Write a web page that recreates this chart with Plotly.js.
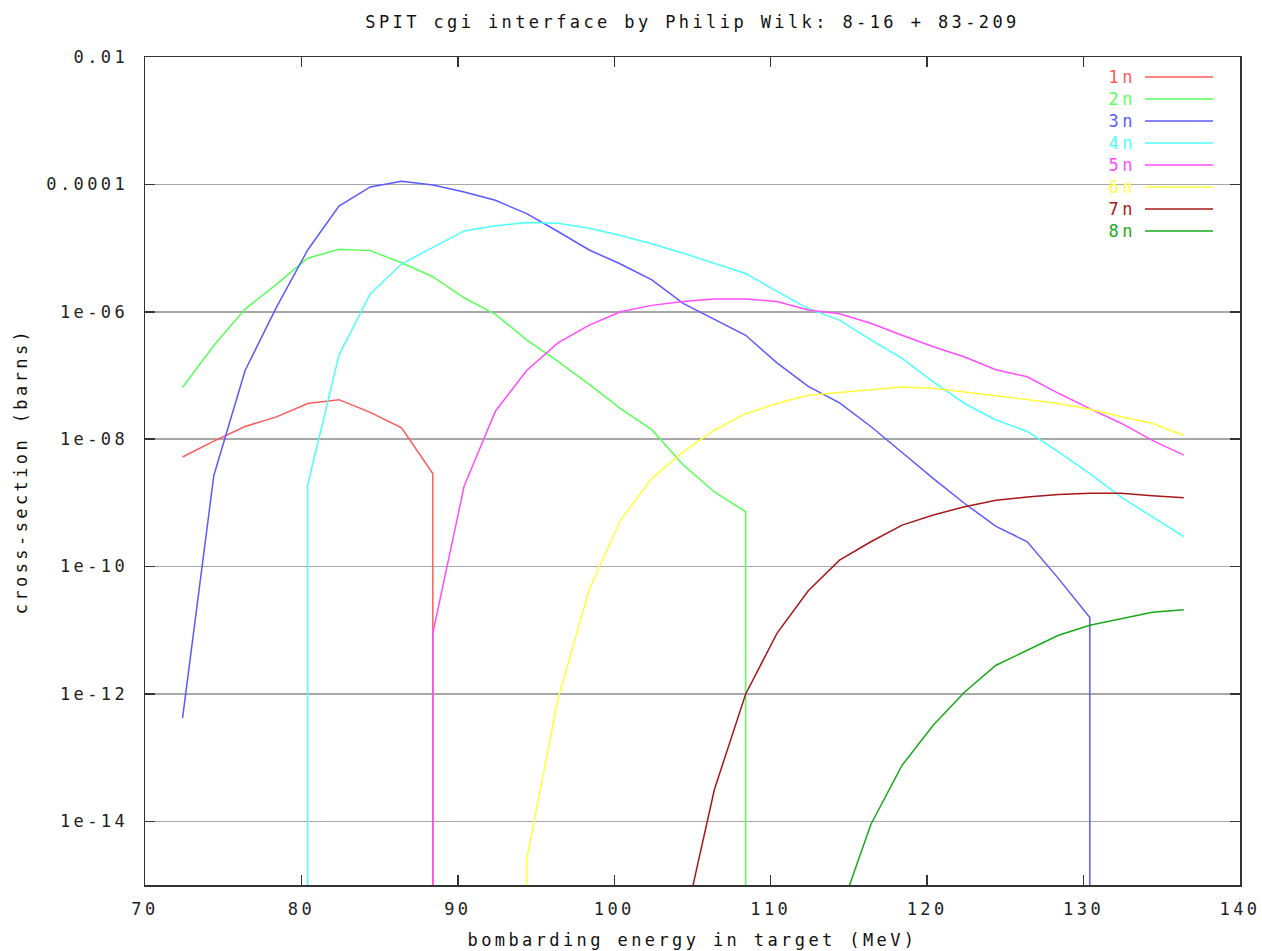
<!DOCTYPE html>
<html>
<head>
<meta charset="utf-8">
<script src="https://cdn.plot.ly/plotly-3.0.1.min.js"></script>
<style>
  html, body { margin: 0; padding: 0; background: #fff; }
  #chart { width: 1262px; height: 951px; }
  .main-svg text { letter-spacing: 3.4px; }
</style>
</head>
<body>
<div id="chart"></div>
<script>
// bombarding energy in target (MeV)
const energy = [72.4, 74.4, 76.4, 78.4, 80.4, 82.4, 84.4, 86.4, 88.4, 90.4, 92.4, 94.4, 96.4, 98.4, 100.4,
                102.4, 104.4, 106.4, 108.4, 110.4, 112.4, 114.4, 116.4, 118.4, 120.4, 122.4, 124.4, 126.4,
                128.4, 130.4, 132.4, 134.4, 136.4];

const seriesNames = ['1n', '2n', '3n', '4n', '5n', '6n', '7n', '8n'];
const seriesColors = ['#ff5a5a', '#5aff5a', '#5a5aff', '#4dffff', '#ff4dff', '#ffff3c', '#a81818', '#1aa81a'];

// cross-section (barns); null = no cross-section
const xs1n = [5.25e-9, 9.33e-9, 1.58e-8, 2.24e-8, 3.63e-8, 4.17e-8, 2.63e-8, 1.51e-8, 2.88e-9,
              null, null, null, null, null, null, null, null, null, null, null, null, null, null, null,
              null, null, null, null, null, null, null, null, null];
const xs2n = [6.46e-8, 2.95e-7, 1.10e-6, 2.69e-6, 6.92e-6, 9.55e-6, 9.12e-6, 5.89e-6, 3.55e-6,
              1.66e-6, 9.12e-7, 3.63e-7, 1.66e-7, 7.24e-8, 3.02e-8, 1.41e-8, 3.98e-9, 1.48e-9, 7.24e-10,
              null, null, null, null, null, null, null, null, null, null, null, null, null, null];
const xs3n = [4.17e-13, 2.69e-9, 1.20e-7, 1.17e-6, 9.33e-6, 4.57e-5, 9.12e-5, 1.12e-4, 9.77e-5,
              7.59e-5, 5.62e-5, 3.47e-5, 1.82e-5, 9.33e-6, 5.62e-6, 3.16e-6, 1.35e-6, 7.59e-7, 4.27e-7,
              1.58e-7, 6.76e-8, 3.72e-8, 1.58e-8, 6.17e-9, 2.40e-9, 9.77e-10, 4.27e-10, 2.45e-10,
              6.46e-11, 1.58e-11, null, null, null];
const xs4n = [null, null, null, null, 1.91e-9, 2.09e-7, 1.91e-6, 5.62e-6, 1.02e-5, 1.86e-5, 2.24e-5,
              2.51e-5, 2.45e-5, 2.04e-5, 1.58e-5, 1.17e-5, 8.32e-6, 5.75e-6, 3.98e-6, 2.09e-6, 1.12e-6,
              7.41e-7, 3.63e-7, 1.86e-7, 7.94e-8, 3.63e-8, 2.00e-8, 1.32e-8, 6.31e-9, 2.88e-9, 1.23e-9,
              6.03e-10, 2.95e-10];
const xs5n = [null, null, null, null, null, null, null, null, 8.91e-12, 1.82e-9, 2.75e-8, 1.20e-7,
              3.24e-7, 6.17e-7, 1.00e-6, 1.26e-6, 1.45e-6, 1.58e-6, 1.58e-6, 1.45e-6, 1.07e-6, 9.33e-7,
              6.61e-7, 4.27e-7, 2.82e-7, 1.95e-7, 1.23e-7, 9.55e-8, 5.25e-8, 3.02e-8, 1.78e-8, 9.55e-9,
              5.62e-9];
const xs6n = [null, null, null, null, null, null, null, null, null, null, null, 2.51e-15, 8.32e-13,
              4.37e-11, 5.37e-10, 2.40e-9, 6.31e-9, 1.38e-8, 2.51e-8, 3.63e-8, 4.90e-8, 5.37e-8, 6.03e-8,
              6.61e-8, 6.31e-8, 5.50e-8, 4.90e-8, 4.17e-8, 3.63e-8, 2.95e-8, 2.24e-8, 1.78e-8, 1.15e-8];
const xs7n = [null, null, null, null, null, null, null, null, null, null, null, null, null, null, null,
              null, 2.0e-16, 3.16e-14, 1.0e-12, 8.91e-12, 4.17e-11, 1.26e-10, 2.45e-10, 4.47e-10,
              6.46e-10, 8.71e-10, 1.10e-9, 1.23e-9, 1.35e-9, 1.41e-9, 1.41e-9, 1.29e-9, 1.20e-9];
const xs8n = [null, null, null, null, null, null, null, null, null, null, null, null, null, null, null,
              null, null, null, null, null, null, 3.55e-16, 8.91e-15, 7.59e-14, 3.24e-13, 1.07e-12,
              2.82e-12, 4.90e-12, 8.32e-12, 1.20e-11, 1.51e-11, 1.91e-11, 2.09e-11];

const allSeries = [xs1n, xs2n, xs3n, xs4n, xs5n, xs6n, xs7n, xs8n];

const yTickVals = [1e-2, 1e-4, 1e-6, 1e-8, 1e-10, 1e-12, 1e-14];
const yTickText = ['0.01', '0.0001', '1e-06', '1e-08', '1e-10', '1e-12', '1e-14'];
const xTickVals = [70, 80, 90, 100, 110, 120, 130, 140];

// Where a channel opens or closes, gnuplot draws a vertical edge down to zero.
const FLOOR = 1e-30;
function buildTrace(vals, name, color) {
  const x = [], y = [];
  for (let i = 0; i < vals.length; i++) {
    const v = vals[i];
    if (v === null) continue;
    if (i > 0 && vals[i - 1] === null) { x.push(energy[i]); y.push(FLOOR); }
    x.push(energy[i]); y.push(v);
    if (i < vals.length - 1 && vals[i + 1] === null) { x.push(energy[i]); y.push(FLOOR); }
  }
  return {
    type: 'scatter', mode: 'lines', name: name, x: x, y: y,
    line: {color: color, width: 1.5}, showlegend: false, hoverinfo: 'x+y+name'
  };
}

const traces = allSeries.map((s, i) => buildTrace(s, seriesNames[i], seriesColors[i]));

const FONT = 'DejaVu Sans Mono, monospace';
const plotL = 145, plotR = 1240, plotT = 57, plotB = 885;
const pw = plotR - plotL, ph = plotB - plotT;

// legend (text left of sample line, as in gnuplot)
const annotations = [], shapes = [];
shapes.push({type: 'rect', xref: 'paper', yref: 'paper', layer: 'between',
  x0: (1098 - plotL) / pw, x1: (1229 - plotL) / pw,
  y0: (plotB - 242) / ph, y1: (plotB - 64) / ph,
  fillcolor: '#ffffff', line: {width: 0}});
seriesNames.forEach((n, i) => {
  const py = 77 + 22 * i;
  const yp = (plotB - py) / ph;
  annotations.push({xref: 'paper', yref: 'paper', x: (1134 - plotL) / pw, y: yp,
    xanchor: 'right', yanchor: 'middle', text: n, showarrow: false,
    font: {family: FONT, size: 17, color: seriesColors[i]}});
  shapes.push({type: 'line', xref: 'paper', yref: 'paper',
    x0: (1145 - plotL) / pw, x1: (1213 - plotL) / pw, y0: yp, y1: yp,
    line: {color: seriesColors[i], width: 1.5}});
});

const axisCommon = {
  ticks: 'inside', ticklen: 10, tickwidth: 1.5, tickcolor: '#333',
  showline: true, linecolor: '#333', linewidth: 1.5, mirror: 'ticks',
  zeroline: false,
  tickfont: {family: FONT, size: 17, color: '#222'}
};

const layout = {
  width: 1262, height: 951,
  margin: {l: plotL, r: 1262 - plotR, t: plotT, b: 951 - plotB, pad: 0},
  paper_bgcolor: '#ffffff', plot_bgcolor: '#ffffff',
  showlegend: false,
  title: {text: 'SPIT cgi interface by Philip Wilk: 8-16 + 83-209',
    x: 0.5, xref: 'paper', xanchor: 'center', y: 1 - 22 / 951, yref: 'container', yanchor: 'middle',
    font: {family: FONT, size: 17, color: '#111'}},
  xaxis: Object.assign({}, axisCommon, {
    range: [70, 140], tickvals: xTickVals, showgrid: false,
    ticklabelstandoff: 8,
    title: {text: 'bombarding energy in target (MeV)', standoff: 16,
      font: {family: FONT, size: 17, color: '#111'}}
  }),
  yaxis: Object.assign({}, axisCommon, {
    type: 'log', range: [-15, -2], tickvals: yTickVals, ticktext: yTickText,
    showgrid: true, gridcolor: '#a8a8a8', gridwidth: 1.5,
    ticklabelstandoff: 12,
    title: {text: 'cross-section (barns)', standoff: 34,
      font: {family: FONT, size: 17, color: '#111'}}
  }),
  annotations: annotations,
  shapes: shapes
};

Plotly.newPlot('chart', traces, layout, {displayModeBar: false, staticPlot: true});
</script>
</body>
</html>
